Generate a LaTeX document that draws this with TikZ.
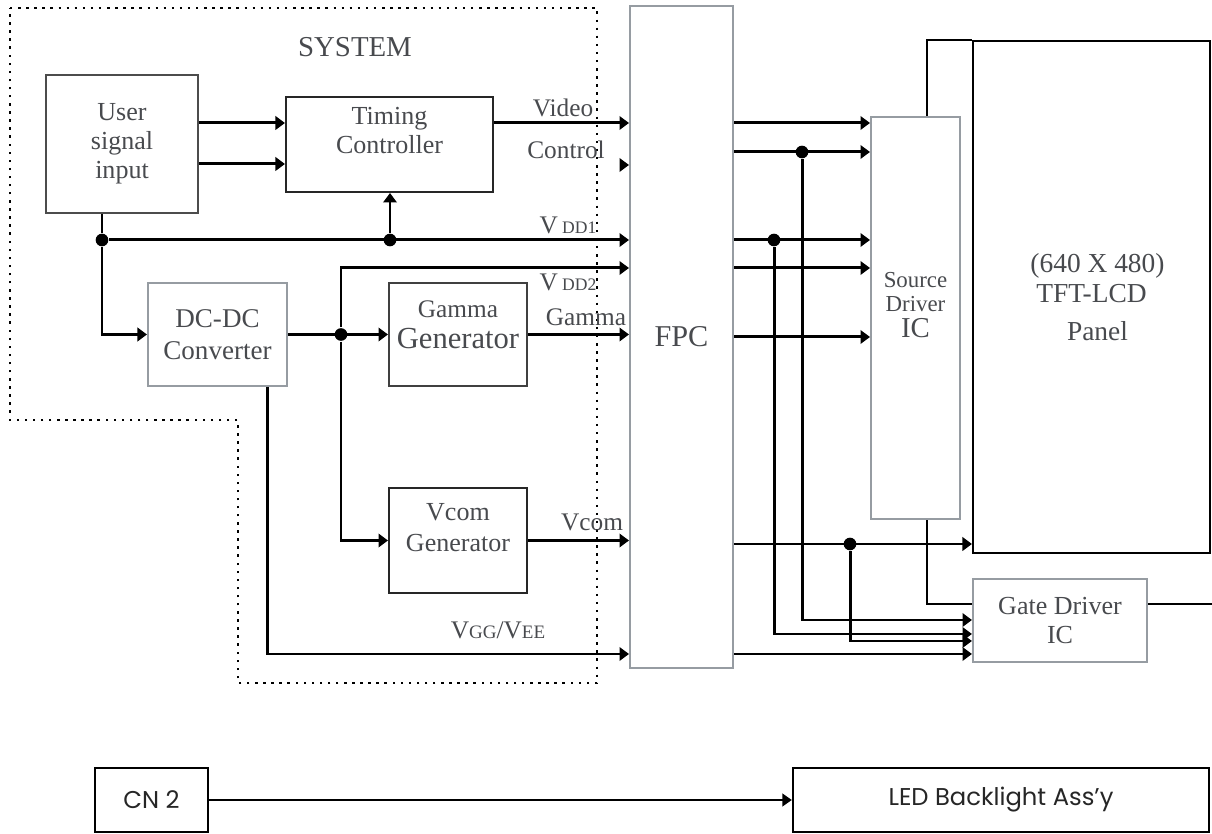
\documentclass[tikz,border=0pt]{standalone}
\usepackage{fontspec}
\setmainfont{Liberation Serif}
\setsansfont{Poppins}
\usepackage{tikz}
\usetikzlibrary{arrows.meta,positioning,calc}
\definecolor{boxgray}{RGB}{150,156,162}
\definecolor{txtgray}{RGB}{72,74,78}

\begin{document}
\begin{tikzpicture}[
    x=0.01cm, y=-0.01cm,
    box/.style={rectangle, draw=black!85, line width=0.55pt, align=center,
                text=txtgray, inner sep=0pt, font=\fontsize{7.4}{8.2}\selectfont},
    greybox/.style={box, draw=boxgray},
    txt/.style={text=txtgray, inner sep=0pt, align=center,
                font=\fontsize{7.2}{8.3}\selectfont},
    sig/.style={line width=0.85pt},
    arrow/.style={sig, -{Triangle[length=2.7pt,width=3.8pt]}},
    wire/.style={line width=0.5pt},
    dot/.style={circle, fill, inner sep=0pt, minimum size=3.6pt},
    sysline/.style={line width=0.5pt, dash pattern=on 0.7pt off 1.6pt}
]
\useasboundingbox (0,0) rectangle (1212,834);

\draw[sysline] (10,8) -- (597,8) -- (597,683) -- (238,683) -- (238,420) -- (10,420) -- cycle;
\node[txt, font=\fontsize{8.2}{9}\selectfont] (sys) at (355,47) {SYSTEM};

\node[box, draw=black!70, minimum width=1.52cm, minimum height=1.38cm] (user) at (122,144)
    {User\\signal\\input};
\node[box, minimum width=2.07cm, minimum height=0.95cm] (tc) at (389.5,144.5) {};
\node[txt, font=\fontsize{7.4}{8.3}\selectfont] (tctext) at (389.5,130.5) {Timing\\Controller};
\node[greybox, minimum width=1.39cm, minimum height=1.03cm,
      font=\fontsize{7.7}{9}\selectfont] (dcdc) at (217.5,334.5) {DC-DC\\Converter};
\node[box, draw=black!75, minimum width=1.38cm, minimum height=1.03cm] (gamma) at (458,334.5) {};
\node[txt] (gamtext) at (458,325)
    {Gamma\\[0.5pt]{\fontsize{8.7}{9}\selectfont Generator}};
\node[box, minimum width=1.38cm, minimum height=1.05cm] (vcom) at (458,540.5) {};
\node[txt, font=\fontsize{7.4}{8.8}\selectfont] (vcomtext) at (458,527.5) {Vcom\\Generator};

\node[greybox, minimum width=1.03cm, minimum height=6.62cm,
      font=\fontsize{8.6}{9}\selectfont] (fpc) at (681.5,337) {FPC};
\node[greybox, minimum width=0.89cm, minimum height=4.02cm] (src) at (915.5,318) {};
\node[txt, font=\fontsize{6.5}{6.9}\selectfont] (srctext) at (915.5,305)
    {Source\\Driver\\[0.3pt]{\fontsize{8.2}{8}\selectfont IC}};
\node[box, draw=black, minimum width=2.37cm, minimum height=5.12cm,
      font=\fontsize{7.8}{8.6}\selectfont] (panel) at (1091.5,297)
    {\hspace{0.12cm}(640 X 480)\\TFT-LCD\\[2pt]\hspace{0.12cm}Panel};
\node[greybox, minimum width=1.74cm, minimum height=0.83cm,
      font=\fontsize{7.4}{8}\selectfont] (gate) at (1060,620.5) {Gate Driver\\IC};

\node[box, draw=black, line width=0.6pt, minimum width=1.13cm, minimum height=0.64cm,
      font=\sffamily\fontsize{6.9}{8}\selectfont, text=black!85] (cn) at (151.5,800) {CN 2};
\node[box, draw=black, line width=0.6pt, minimum width=4.16cm, minimum height=0.64cm,
      font=\sffamily\fontsize{6.9}{8}\selectfont, text=black!85] (led) at (1001,800)
    {LED Backlight Ass'y};

\node[dot] (jv1) at (102,240) {};
\node[dot] (jv2) at (390,240) {};
\node[dot] (jg) at (341,334.5) {};
\node[dot] (js1) at (802,152) {};
\node[dot] (js2) at (774,240) {};
\node[dot] (jc) at (850,544) {};
\coordinate (edge) at (1212,604);

\node[txt] (lvideo) at (563,108) {Video};
\node[txt] (lctrl) at (566,150) {Control};
\node[txt] (lvdd1) at (568,225) {V\,{\fontsize{5}{5}\selectfont DD1}};
\node[txt] (lvdd2) at (568,282) {V\,{\fontsize{5}{5}\selectfont DD2}};
\node[txt] (lgamma) at (586,317) {Gamma};
\node[txt] (lvcom) at (592,522) {Vcom};
\node[txt] (lvgg) at (498,630)
    {V{\fontsize{5.4}{5}\selectfont GG}/V{\fontsize{5.4}{5}\selectfont EE}};

\draw[arrow] (user.east |- 0,123) -- (tc.west |- 0,123);
\draw[arrow] (user.east |- 0,164) -- (tc.west |- 0,164);
\draw[arrow] (tc.east |- 0,123) -- (fpc.west |- 0,123);
\draw[arrow] ([xshift=-0.08cm]fpc.west |- 0,165) -- (fpc.west |- 0,165);
\draw[arrow] (jv1 |- user.south) -- (jv1) |- (dcdc.west);
\draw[arrow] (jv1) -- (jv1 -| fpc.west);
\draw[arrow] (jv2) -- (jv2 |- tc.south);
\draw[arrow] (dcdc.east) -- (gamma.west);
\draw[arrow] (jg) -- (jg |- 0,268) -- (fpc.west |- 0,268);
\draw[arrow] (jg) |- (vcom.west);
\draw[arrow] (gamma.east) -- (gamma.east -| fpc.west);
\draw[arrow] (vcom.east) -- (vcom.east -| fpc.west);
\draw[arrow] ([xshift=0.5cm]dcdc.south) |- (fpc.west |- 0,654);

\draw[arrow] (fpc.east |- 0,123) -- (src.west |- 0,123);
\draw[arrow] (fpc.east |- js1) -- (src.west |- js1);
\draw[arrow] (fpc.east |- js2) -- (src.west |- js2);
\draw[arrow] (fpc.east |- 0,268) -- (src.west |- 0,268);
\draw[arrow] (fpc.east |- 0,337) -- (src.west |- 0,337);
\draw[arrow] (fpc.east |- jc) -- (panel.west |- jc);
\draw[arrow] (js1) |- (gate.west |- 0,620);
\draw[arrow] (js2) |- (gate.west |- 0,634);
\draw[arrow] (jc) |- (gate.west |- 0,641);
\draw[arrow] (fpc.east |- 0,654) -- (gate.west |- 0,654);

\draw[wire] ([xshift=0.115cm]src.north) |- (panel.north west);
\draw[wire] ([xshift=0.115cm]src.south) |- (gate.west |- edge);
\draw[wire] (gate.east |- edge) -- (edge);

\draw[line width=0.6pt, -{Triangle[length=2.7pt,width=3.6pt]}] (cn) -- (led);
\end{tikzpicture}
\end{document}
